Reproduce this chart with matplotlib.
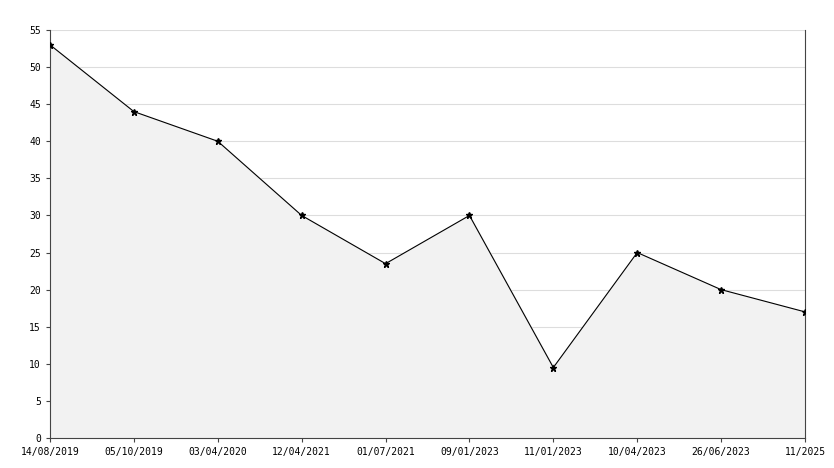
import matplotlib
matplotlib.use("Agg")
import matplotlib.pyplot as plt

dates = ["14/08/2019","05/10/2019","03/04/2020","12/04/2021","01/07/2021",
         "09/01/2023","11/01/2023","10/04/2023","26/06/2023","11/2025"]
values = [53, 44, 40, 30, 23.5, 30, 9.5, 25, 20, 17]

fig = plt.figure(figsize=(8.34, 4.68), dpi=100)
ax = fig.add_axes([50/834, 30/468, 755/834, 408/468])
x = list(range(len(dates)))
ax.fill_between(x, values, 0, color="#f2f2f2", zorder=1)
ax.plot(x, values, color="black", lw=0.8, marker="*", ms=5, zorder=3)
ax.set_xlim(0, len(dates)-1)
ax.set_ylim(0, 55)
ax.set_yticks(range(0, 56, 5))
ax.set_xticks(x)
ax.set_xticklabels(dates)
ax.grid(axis="y", color="#dddddd", lw=0.8, zorder=0)
ax.set_axisbelow(True)
for s in ["top"]:
    ax.spines[s].set_visible(False)
for s in ["left", "bottom", "right"]:
    ax.spines[s].set_color("#444444")
    ax.spines[s].set_linewidth(0.8)
ax.tick_params(labelsize=7, length=3, color="#444444")
for t in ax.get_xticklabels() + ax.get_yticklabels():
    t.set_family("DejaVu Sans Mono")
fig.savefig("out.png", dpi=100)
